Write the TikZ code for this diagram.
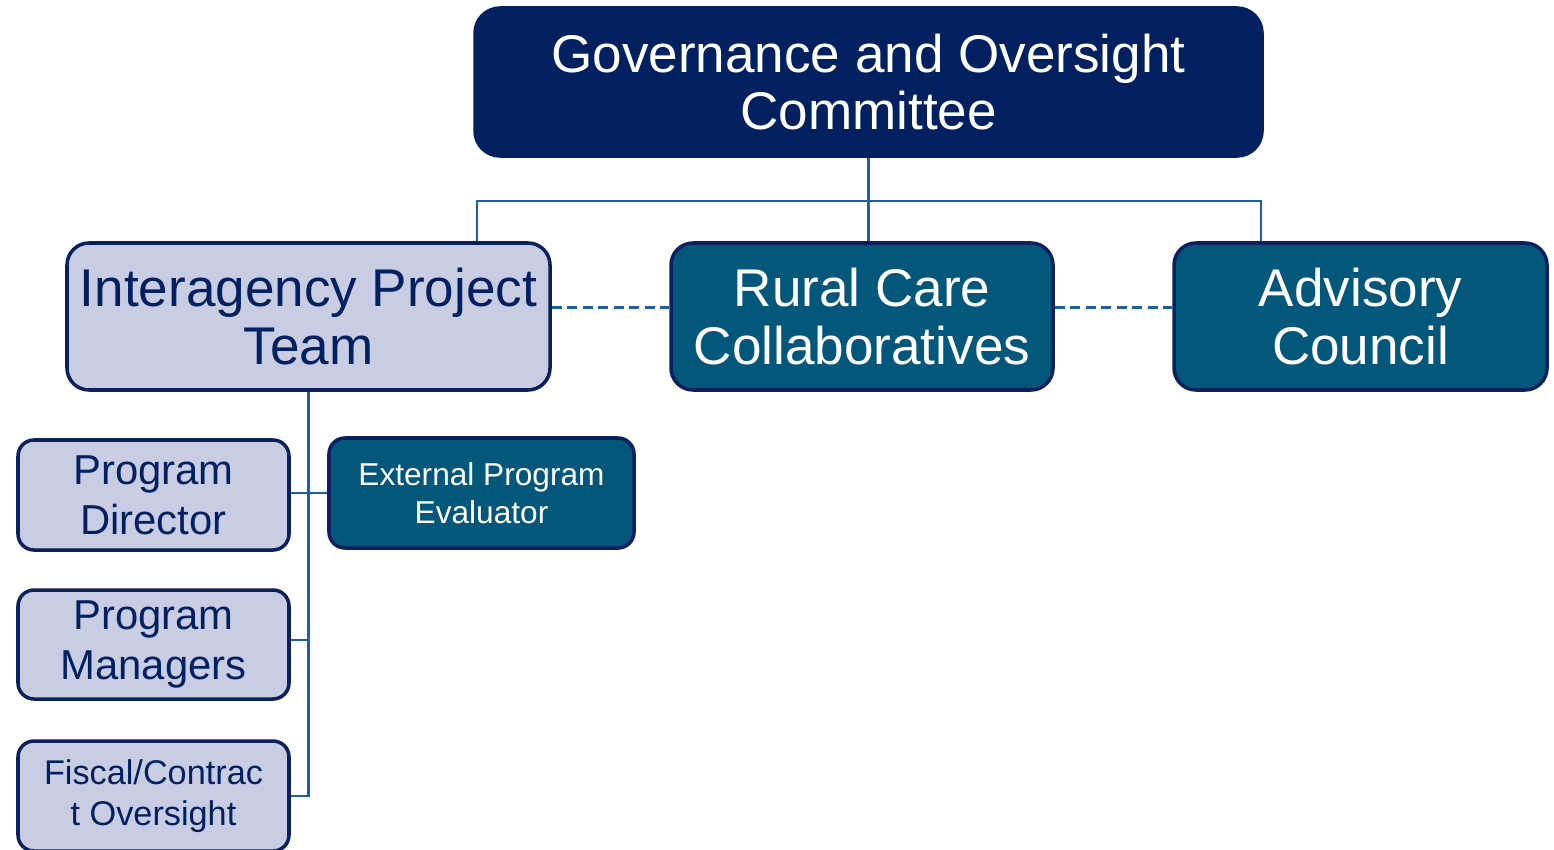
\documentclass[tikz,border=0pt]{standalone}
\usepackage{fontspec}
\setmainfont{Liberation Sans}
\usetikzlibrary{positioning,calc}
\definecolor{NAVY}{HTML}{002060}
\definecolor{EDGE}{HTML}{0C1F5E}
\definecolor{TEAL}{HTML}{03577A}
\definecolor{LAVENDER}{HTML}{C9CDE4}
\definecolor{LINK}{HTML}{1F5FA3}

\begin{document}
\begin{tikzpicture}[draw=EDGE]
\tikzstyle{box}=[draw=EDGE,line width=1pt,rounded corners=0.22cm,align=center,inner sep=0pt]
\tikzstyle{big box}=[box,minimum height=1.47cm,font=\fontsize{15.1}{16.3}\selectfont]
\tikzstyle{small box}=[box,minimum width=2.71cm,minimum height=1.1cm,rounded corners=0.16cm]
\tikzstyle{navy box}=[big box,fill=NAVY,draw=NAVY,text=white]
\tikzstyle{teal box}=[fill=TEAL,text=white]
\tikzstyle{lav box}=[fill=LAVENDER,text=NAVY]
\tikzstyle{myLink}=[draw=LINK,line width=0.65pt]
\tikzstyle{myDash}=[myLink,line width=0.75pt,dash pattern=on 2.9pt off 1.5pt]

\useasboundingbox (0,0) rectangle (15.54,-8.49);

% top level
\node[navy box,minimum width=7.87cm,minimum height=1.48cm,rounded corners=0.25cm] (gov) at (8.685,-0.82) {Governance and Oversight\\Committee};

% second level
\node[big box,lav box,minimum width=4.83cm] (iap) at (3.085,-3.165) {Interagency Project\\Team};
\node[big box,teal box,minimum width=3.82cm] (rcc) at (8.62,-3.165) {Rural Care\\Collaboratives};
\node[big box,teal box,minimum width=3.73cm] (adv) at (13.605,-3.165) {Advisory\\Council};

% team members
\node[small box,lav box,font=\fontsize{11.9}{14.2}\selectfont] (pd) at (1.535,-4.95) {Program\\Director};
\node[small box,lav box,font=\fontsize{11.9}{14.2}\selectfont,minimum height=1.09cm] (pm) at (1.535,-6.445) {Program\\Managers};
\node[small box,lav box,font=\fontsize{9.75}{11.7}\selectfont] (fco) at (1.535,-7.96) {Fiscal/Contrac\\t Oversight};
\node[small box,teal box,minimum width=3.05cm,font=\fontsize{9}{10.8}\selectfont] (epe) at (4.815,-4.93) {External Program\\Evaluator};

% bus under the committee
\coordinate (busL) at (4.77,-2.01);
\coordinate (busR) at (12.61,-2.01);
\draw[myLink] (busL |- iap.north) -- (busL) -- (busR) -- (busR |- adv.north);
\draw[myLink] (gov.south) -- (gov.south |- rcc.north);

% dashed links
\draw[myDash] ([yshift=0.09cm]iap.east) -- ([yshift=0.09cm]rcc.west);
\draw[myDash] ([yshift=0.09cm]rcc.east) -- ([yshift=0.09cm]adv.west);

% trunk to team members
\draw[myLink] (iap.south) |- (fco.east);
\draw[myLink] (iap.south) |- ([yshift=0.045cm]pm.east);
\draw[myLink] (pd.east |- epe.west) -- (epe.west);
\end{tikzpicture}
\end{document}
